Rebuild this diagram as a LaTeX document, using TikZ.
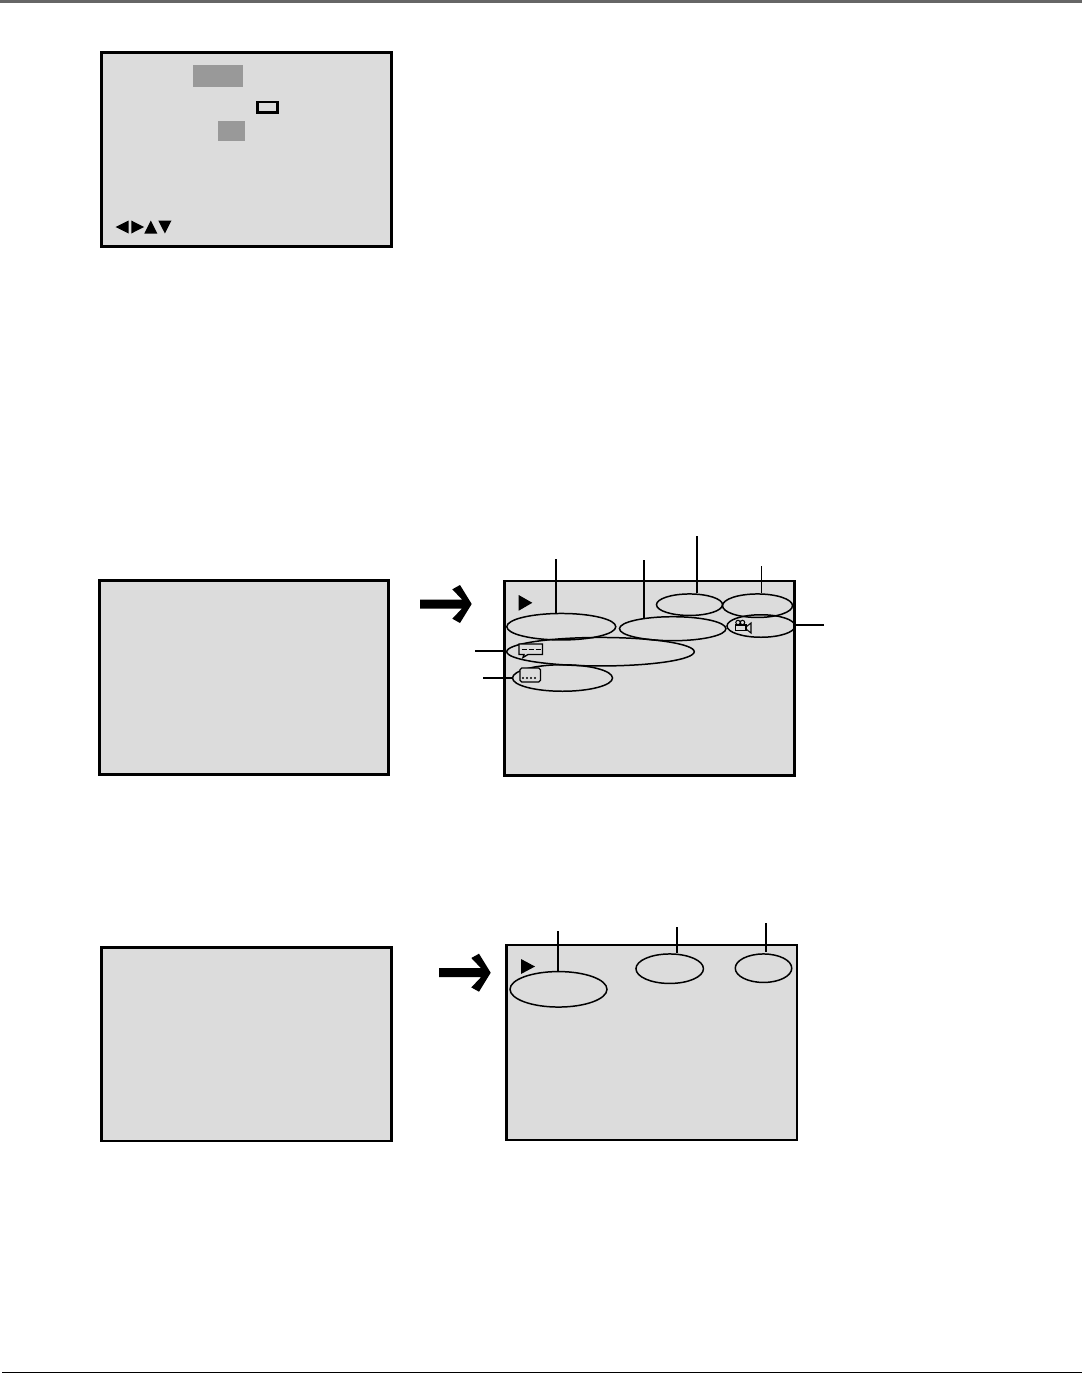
\documentclass[tikz,border=0pt]{standalone}
\usetikzlibrary{shapes.geometric}
\definecolor{screenfill}{RGB}{220,220,220}
\definecolor{hilite}{RGB}{153,153,153}
\definecolor{rulegray}{RGB}{102,102,102}
\tikzset{
  screen/.style={draw=black,line width=1.5pt,fill=screenfill},
  callout/.style={ellipse,draw=black,line width=0.85pt,inner sep=0pt},
  leader/.style={line width=1pt},
  bigarrow/.pic={
    \fill (-51.7,-4.5)--(-9.7,-4.5)--(-19.4,-14.7)--(-11.7,-19)--(0,0)--(-11.7,19)--(-19.4,14.7)--(-9.7,4.5)--(-51.7,4.5)--cycle;
  }
}
\begin{document}
\begin{tikzpicture}[x=0.02cm,y=-0.02cm]
  \useasboundingbox (0,0) rectangle (1082,1373);
  % page rules
  \fill[rulegray] (0,0) rectangle (1082,3);
  \draw[line width=0.6pt] (2,1372.3)--(1082,1372.3);
  % menu screen
  \draw[screen] (101.3,52.3) rectangle (391.5,246.5);
  \fill[hilite] (193,65) rectangle (243,87);
  \fill[hilite] (218,121) rectangle (245,141);
  \draw[line width=1.6pt] (257.5,102) rectangle (277.5,112.7);
  \fill (115.5,227)--(128.7,220.5)--(128.7,233.5)--cycle;
  \fill (131.3,220.5)--(144,227)--(131.3,233.5)--cycle;
  \fill (144.3,233.5)--(150.8,220.5)--(157.3,233.5)--cycle;
  \fill (158.3,220.5)--(171.5,220.5)--(164.9,233.5)--cycle;
  % middle row
  \draw[screen] (99.3,580.3) rectangle (388.7,774.7);
  \draw[screen] (504.3,581) rectangle (794.7,775.5);
  \pic at (471.7,604) {bigarrow};
  \fill (518.7,595)--(532.3,602.8)--(518.7,610.7)--cycle;
  \node[callout,minimum width=2.18cm,minimum height=0.53cm] (chapter) at (561.3,626.7) {};
  \node[callout,minimum width=2.13cm,minimum height=0.48cm] (title) at (672.7,628.7) {};
  \node[callout,minimum width=1.32cm,minimum height=0.43cm] (hour) at (689.5,604.7) {};
  \node[callout,minimum width=1.40cm,minimum height=0.47cm] (remain) at (757.5,605.7) {};
  \node[callout,minimum width=1.36cm,minimum height=0.45cm] (angle) at (761,626) {};
  \node[callout,minimum width=3.75cm,minimum height=0.57cm] (audio) at (600.5,651.7) {};
  \node[callout,minimum width=2.00cm,minimum height=0.53cm] (subtitle) at (562.5,678) {};
  \coordinate (chapterend) at (555.7,559);
  \coordinate (titleend) at (643.7,560);
  \coordinate (hourend) at (696.7,536);
  \coordinate (remainend) at (761.3,566);
  \coordinate (angleend) at (824,625);
  \coordinate (audioend) at (475,650.7);
  \coordinate (subtitleend) at (483.3,677.7);
  \draw[leader] (chapterend)--(chapterend |- chapter.north);
  \draw[leader] (titleend)--(titleend |- title.161);
  \draw[leader] (hourend)--(hourend |- hour.north);
  \draw[line width=0.6pt] (remainend)--(remainend |- remain.north);
  \draw[leader] (angleend)--(angleend -| angle.east);
  \draw[leader] (audioend)--(audioend -| audio.west);
  \draw[leader] (subtitleend)--(subtitleend -| subtitle.west);
  % icons
  \draw[line width=0.75pt,fill=screenfill] (519,644)--(542.5,644)--(542.5,654.5)--(528,654.5)--(523,657.5)--(524,654.5)--(519,654.5)--cycle;
  \draw[line width=0.4pt] (521.5,649)--(526.5,649) (528.5,649)--(533.5,649) (535.5,649)--(540.5,649);
  \draw[line width=0.75pt,rounded corners=1pt,fill=screenfill] (520,668)--(540.5,668)--(540.5,682)--(520,682)--cycle;
  \fill (523,678) circle (1.2) (527,678) circle (1.2) (531,678) circle (1.2) (535,678) circle (1.2);
  \draw[line width=0.6pt] (735.5,625)--(746,625)--(746,630.5)--(735.5,630.5)--cycle;
  \draw[line width=0.6pt] (738,622.5) circle (2.2) (742.5,622.5) circle (2.2);
  \draw[line width=0.6pt] (746,627)--(751,623)--(751,633)--(746,629);
  % bottom row
  \draw[screen] (101.3,947.3) rectangle (391.5,1141);
  \draw[screen] (506.3,945) rectangle (797,1140);
  \pic at (490.7,972.7) {bigarrow};
  \fill (521,959)--(535,966.5)--(521,974)--cycle;
  \node[callout,minimum width=1.94cm,minimum height=0.71cm] (track) at (558.5,989.3) {};
  \node[callout,minimum width=1.35cm,minimum height=0.59cm] (time) at (669.7,968.7) {};
  \node[callout,minimum width=1.13cm,minimum height=0.57cm] (total) at (763.5,968.2) {};
  \coordinate (trackend) at (558,931);
  \coordinate (timeend) at (677,927);
  \coordinate (totalend) at (766,923);
  \draw[leader] (trackend)--(trackend |- track.north);
  \draw[leader] (timeend)--(timeend |- time.north);
  \draw[leader] (totalend)--(766,951.5);
\end{tikzpicture}
\end{document}
